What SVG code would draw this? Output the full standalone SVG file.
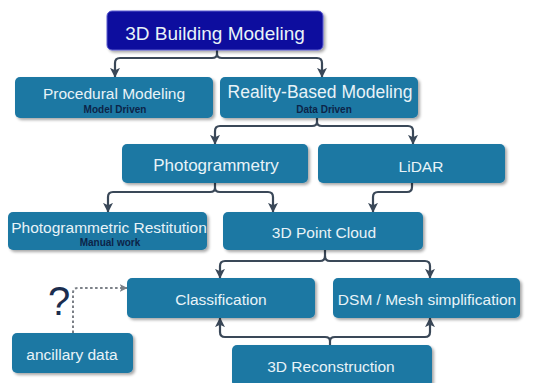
<svg xmlns="http://www.w3.org/2000/svg" width="535" height="383" viewBox="0 0 535 383">
<defs>
<filter id="sh" x="-10%" y="-20%" width="125%" height="150%">
<feGaussianBlur in="SourceAlpha" stdDeviation="1.5"/>
<feOffset dx="1.5" dy="2" result="b"/>
<feComponentTransfer><feFuncA type="linear" slope="0.35"/></feComponentTransfer>
<feMerge><feMergeNode/><feMergeNode in="SourceGraphic"/></feMerge>
</filter>
<marker id="ah" viewBox="0 0 12 12" refX="11" refY="6" markerWidth="10" markerHeight="10" markerUnits="userSpaceOnUse" orient="auto">
<path d="M0,0 L12,6 L0,12 L3,6 Z" fill="#3a4858"/>
</marker>
<marker id="ahd" viewBox="0 0 12 12" refX="11" refY="6" markerWidth="8" markerHeight="8" markerUnits="userSpaceOnUse" orient="auto">
<path d="M0,0 L12,6 L0,12 L3,6 Z" fill="#7a7f86"/>
</marker>
</defs>
<style>
.box{fill:#1f78a3;filter:url(#sh)}
.top{fill:#11119e;stroke:#5a5ad0;stroke-width:1;filter:url(#sh)}
.t{font-family:"Liberation Sans",Arial,sans-serif;fill:#e8f3f8;text-anchor:middle}
.s{font-family:"Liberation Sans",Arial,sans-serif;font-weight:bold;font-size:10px;fill:#0c2448;text-anchor:middle}
.c{fill:none;stroke:#3a4858;stroke-width:2.2}
.d{fill:none;stroke:#7a7f86;stroke-width:2;stroke-dasharray:2.5 2.5}
</style>
<g id="connectors">
<path class="c" d="M217,50 V54 Q217,58 212,58 H120 Q115,58 115,63 V77" marker-end="url(#ah)"/>
<path class="c" d="M217,54 Q217,58 222,58 H317 Q322,58 322,63 V77" marker-end="url(#ah)"/>
<path class="c" d="M317,118 V122 Q317,126 312,126 H220 Q215,126 215,131 V144" marker-end="url(#ah)"/>
<path class="c" d="M317,122 Q317,126 322,126 H408 Q413,126 413,131 V144" marker-end="url(#ah)"/>
<path class="c" d="M215,183 V188 Q215,192 210,192 H113 Q108,192 108,197 V212" marker-end="url(#ah)"/>
<path class="c" d="M215,188 Q215,192 220,192 H268 Q273,192 273,197 V212" marker-end="url(#ah)"/>
<path class="c" d="M412,183 V187 Q412,192 407,192 H378 Q373,192 373,197 V212" marker-end="url(#ah)"/>
<path class="c" d="M325,250 V256 Q325,261 320,261 H225 Q220,261 220,266 V278" marker-end="url(#ah)"/>
<path class="c" d="M325,256 Q325,261 330,261 H425 Q430,261 430,266 V278" marker-end="url(#ah)"/>
<path class="c" d="M330,345 V341 Q330,337 325,337 H225 Q220,337 220,332 V318" marker-end="url(#ah)"/>
<path class="c" d="M330,341 Q330,337 335,337 H425 Q430,337 430,332 V318" marker-end="url(#ah)"/>
<path class="d" d="M73,333 V293 Q73,288 78,288 H127" marker-end="url(#ahd)"/>
</g>
<g id="n-top"><rect class="top" x="107" y="11" width="216" height="39" rx="5"/><text class="t" x="215" y="40" font-size="19">3D Building Modeling</text></g>
<g id="n-procedural"><rect class="box" x="15" y="77" width="198" height="41" rx="5"/><text class="t" x="114" y="99" font-size="15.5">Procedural Modeling</text><text class="s" x="115" y="113">Model Driven</text></g>
<g id="n-reality"><rect class="box" x="220" y="77" width="198" height="41" rx="5"/><text class="t" x="320" y="98" font-size="17.5">Reality-Based Modeling</text><text class="s" x="324" y="113">Data Driven</text></g>
<g id="n-photogrammetry"><rect class="box" x="122" y="144" width="186" height="39" rx="5"/><text class="t" x="216" y="171" font-size="17">Photogrammetry</text></g>
<g id="n-lidar"><rect class="box" x="318" y="144" width="187" height="39" rx="5"/><text class="t" x="421" y="172" font-size="15.5">LiDAR</text></g>
<g id="n-restitution"><rect class="box" x="8" y="212" width="199" height="38" rx="5"/><text class="t" x="109" y="233" font-size="15.5">Photogrammetric Restitution</text><text class="s" x="110" y="246">Manual work</text></g>
<g id="n-pointcloud"><rect class="box" x="223" y="212" width="200" height="38" rx="5"/><text class="t" x="324" y="238" font-size="15.5">3D Point Cloud</text></g>
<g id="n-classification"><rect class="box" x="127" y="278" width="188" height="40" rx="5"/><text class="t" x="221" y="305" font-size="15.5">Classification</text></g>
<g id="n-dsm"><rect class="box" x="333" y="278" width="187" height="40" rx="5"/><text class="t" x="427" y="305" font-size="15.5">DSM / Mesh simplification</text></g>
<g id="n-reconstruction"><rect class="box" x="232" y="345" width="200" height="42" rx="5"/><text class="t" x="331" y="372" font-size="15.5">3D Reconstruction</text></g>
<g id="n-ancillary"><rect class="box" x="12" y="333" width="121" height="40" rx="5"/><text class="t" x="72" y="360" font-size="15.5">ancillary data</text></g>
<text x="59" y="315" font-family="Liberation Sans,Arial,sans-serif" font-size="40" fill="#1b2d4f" text-anchor="middle">?</text>
</svg>
